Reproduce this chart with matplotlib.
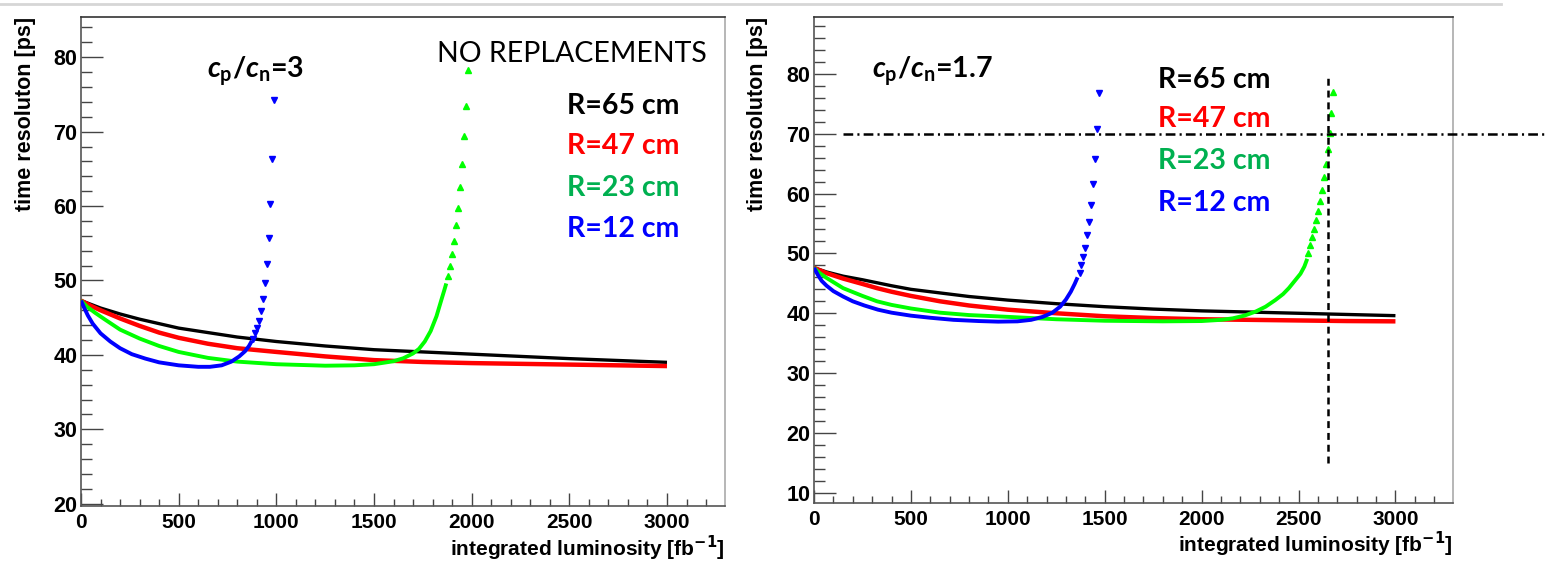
import matplotlib
matplotlib.use("Agg")
import matplotlib.pyplot as plt
from matplotlib.lines import Line2D
from matplotlib.ticker import MultipleLocator

# ---------------- data ----------------
# Left panel: cp/cn = 3, no replacements
black3_lum = [0, 50, 100, 200, 300, 400, 500, 650, 800, 1000, 1250, 1500, 1750, 2000,
              2250, 2500, 2750, 3000]
black3_res = [47.3, 46.8, 46.3, 45.5, 44.8, 44.2, 43.6, 43.0, 42.4, 41.8, 41.2, 40.7, 40.4,
              40.1, 39.8, 39.5, 39.25, 39.0]
red3_lum = [0, 50, 100, 200, 300, 400, 500, 650, 800, 1000, 1250, 1500, 1750, 2000,
            2250, 2500, 2750, 3000]
red3_res = [47.3, 46.6, 46.0, 44.9, 43.9, 43.0, 42.3, 41.5, 40.9, 40.4, 39.8, 39.3, 39.05,
            38.9, 38.8, 38.7, 38.6, 38.5]
green3_lum = [0, 30, 70, 120, 200, 300, 400, 500, 650, 800, 1000, 1250, 1400, 1500, 1600,
              1650, 1700, 1730, 1760, 1790, 1820, 1845, 1860, 1870]
green3_res = [47.3, 46.5, 45.7, 44.8, 43.4, 42.2, 41.2, 40.4, 39.6, 39.1, 38.75, 38.55, 38.6,
              38.75, 39.15, 39.55, 40.2, 40.8, 41.8, 43.2, 45.2, 47.4, 48.7, 49.6]
green3_tail_lum = [1880, 1890, 1900, 1910, 1920, 1930, 1940, 1950, 1960, 1970, 1980]
green3_tail_res = [50.6, 51.9, 53.6, 55.3, 57.4, 59.8, 62.5, 65.6, 69.4, 73.4, 78.3]
blue3_lum = [0, 15, 35, 60, 100, 150, 200, 260, 330, 400, 500, 600, 660, 720, 770, 810,
             840, 860, 875]
blue3_res = [47.3, 46.4, 45.3, 44.2, 42.9, 41.8, 40.9, 40.1, 39.5, 39.0, 38.6, 38.4, 38.4,
             38.6, 39.1, 39.8, 40.5, 41.2, 41.9]
blue3_tail_lum = [880, 890, 900, 910, 920, 930, 940, 950, 960, 970, 980, 990]
blue3_tail_res = [42.2, 42.9, 43.6, 44.6, 45.9, 47.5, 49.6, 52.2, 55.7, 60.3, 66.3, 74.3]

# Right panel: cp/cn = 1.7
black17_lum = [0, 65, 150, 250, 325, 400, 500, 650, 800, 1000, 1250, 1500, 1750, 2000,
               2250, 2500, 2750, 3000]
black17_res = [47.6, 46.9, 46.2, 45.6, 45.1, 44.6, 44.0, 43.4, 42.8, 42.2, 41.6, 41.1, 40.7,
               40.4, 40.2, 40.0, 39.8, 39.6]
red17_lum = [0, 65, 150, 250, 325, 400, 500, 650, 800, 1000, 1250, 1500, 1750, 2000,
             2250, 2500, 2750, 3000]
red17_res = [47.6, 46.7, 45.8, 44.9, 44.2, 43.6, 42.9, 42.0, 41.3, 40.6, 40.0, 39.5, 39.2,
             39.0, 38.9, 38.8, 38.7, 38.65]
green17_lum = [0, 30, 65, 150, 250, 325, 400, 500, 650, 800, 1000, 1250, 1500, 1800, 2000,
               2100, 2160, 2220, 2280, 2330, 2380, 2420, 2450, 2480, 2510, 2530, 2545]
green17_res = [47.6, 46.7, 45.9, 44.2, 42.9, 42.0, 41.4, 40.8, 40.1, 39.7, 39.4, 39.0, 38.75,
               38.65, 38.7, 38.9, 39.15, 39.6, 40.3, 41.1, 42.2, 43.2, 44.2, 45.4, 46.6,
               47.8, 49.1]
green17_tail_lum = [2550, 2560, 2570, 2580, 2590, 2600, 2610, 2620, 2630, 2640, 2650,
                    2660, 2670, 2680]
green17_tail_res = [50.0, 51.4, 52.8, 54.1, 55.5, 57.1, 58.7, 60.6, 62.7, 64.9, 67.4,
                    70.2, 73.4, 76.9]
blue17_lum = [0, 20, 40, 65, 100, 150, 200, 260, 330, 400, 500, 600, 720, 850, 950, 1050,
              1120, 1180, 1230, 1270, 1300, 1325, 1345, 1360]
blue17_res = [47.6, 46.4, 45.4, 44.6, 43.7, 42.8, 42.0, 41.3, 40.6, 40.1, 39.6, 39.25, 38.9,
              38.7, 38.6, 38.65, 38.9, 39.4, 40.1, 41.1, 42.3, 43.6, 44.9, 46.0]
blue17_tail_lum = [1370, 1380, 1390, 1400, 1410, 1420, 1430, 1440, 1450, 1460, 1470]
blue17_tail_res = [46.7, 48.0, 49.4, 50.9, 53.0, 55.3, 58.1, 61.6, 65.8, 70.8, 76.8]

# reference lines in the right panel
limit_res = 70
limit_res_lum = [150, 3780]
limit_lum = 2650
limit_lum_res = [15, 80]

radius_labels = ["R=65 cm", "R=47 cm", "R=23 cm", "R=12 cm"]
ratio_labels = [r"$\mathit{c}_{\mathrm{p}}/\mathit{c}_{\mathrm{n}}$=3",
                r"$\mathit{c}_{\mathrm{p}}/\mathit{c}_{\mathrm{n}}$=1.7"]

# ---------------- style ----------------
plt.rcParams["font.family"] = ["Liberation Sans", "DejaVu Sans"]
plt.rcParams["font.weight"] = "bold"
plt.rcParams["mathtext.fontset"] = "custom"
plt.rcParams["mathtext.rm"] = "Lato:bold"
plt.rcParams["mathtext.it"] = "Lato:bold:italic"
plt.rcParams["lines.scale_dashes"] = False

W, H = 1547, 561
fig = plt.figure(figsize=(W / 100, H / 100), dpi=100)


def fx(px):
    return px / W


def fy(py):
    return 1 - py / H


line_colors = ["#000000", "#ff0000", "#00ff00", "#0000ff"]
text_colors = ["#000000", "#ff0000", "#00b050", "#0000ff"]
band_lw = [2.4, 3.2, 2.8, 2.8]


def make_axes(l, t, r, b, ylim):
    ax = fig.add_axes([fx(l), fy(b), fx(r - l), (b - t) / H])
    ax.set_xlim(0, 3297)
    ax.set_ylim(*ylim)
    ax.xaxis.set_major_locator(MultipleLocator(500))
    ax.xaxis.set_minor_locator(MultipleLocator(100))
    ax.yaxis.set_major_locator(MultipleLocator(10))
    ax.yaxis.set_minor_locator(MultipleLocator(2))
    ax.tick_params(axis="both", which="both", direction="in", colors="#444",
                   labelcolor="black", width=1.0)
    ax.tick_params(axis="y", which="major", length=15.5, pad=2.5, labelsize=15.5)
    ax.tick_params(axis="y", which="minor", length=8)
    ax.tick_params(axis="x", which="major", length=9.5, pad=5.0, labelsize=15)
    ax.tick_params(axis="x", which="minor", length=5)
    for lab in ax.get_xticklabels() + ax.get_yticklabels():
        lab.set_fontweight("bold")
    ax.spines["left"].set_color("#555")
    ax.spines["bottom"].set_color("#555")
    ax.spines["top"].set_color("#333")
    ax.spines["right"].set_color("#aaa")
    for s in ax.spines.values():
        s.set_linewidth(1.2)
    return ax


def draw(ax, bands, tails):
    for i, (bx, by) in enumerate(bands):
        ax.plot(bx, by, color=line_colors[i], lw=band_lw[i], solid_capstyle="butt",
                solid_joinstyle="round", zorder=2 + i)
    for i, (tx, ty, mk) in tails.items():
        ax.plot(tx, ty, ls="none", marker=mk, ms=4.2, color=line_colors[i],
                mec=line_colors[i], zorder=2 + i)


# left panel
axL = make_axes(81, 17, 725, 506, (19.7, 85.4))
draw(axL,
     [(black3_lum, black3_res), (red3_lum, red3_res),
      (green3_lum, green3_res), (blue3_lum, blue3_res)],
     {2: (green3_tail_lum, green3_tail_res, "^"),
      3: (blue3_tail_lum, blue3_tail_res, "v")})

# right panel
axR = make_axes(814, 17, 1453, 503, (8.3, 89.5))
draw(axR,
     [(black17_lum, black17_res), (red17_lum, red17_res),
      (green17_lum, green17_res), (blue17_lum, blue17_res)],
     {2: (green17_tail_lum, green17_tail_res, "^"),
      3: (blue17_tail_lum, blue17_tail_res, "v")})
axR.plot(limit_res_lum, [limit_res, limit_res], color="black", lw=1.8,
         dashes=[7, 3, 1.5, 3], clip_on=False, zorder=8)
axR.plot([limit_lum, limit_lum], limit_lum_res, color="black", lw=1.8,
         dashes=[5, 3.5], zorder=8)

# axis titles
for xp in [25, 757]:
    fig.text(fx(xp), fy(17), "time resoluton [ps]", rotation=90, ha="center", va="top",
             fontsize=15.5, fontweight="bold")
for xr, yb in [(725, 556), (1453, 552)]:
    fig.text(fx(xr), fy(yb), r"integrated luminosity [fb$^{\mathbf{-1}}$]", ha="right",
             va="baseline", fontsize=15, fontweight="bold", math_fontfamily="dejavusans")

# annotations
ann_font = ["Lato", "DejaVu Sans"]
fs = 20.5
fig.text(fx(207), fy(78), ratio_labels[0], ha="left", va="baseline", fontsize=fs,
         family=ann_font, fontweight="bold")
fig.text(fx(872), fy(78), ratio_labels[1], ha="left", va="baseline", fontsize=fs,
         family=ann_font, fontweight="bold")
fig.text(fx(437), fy(62), "NO REPLACEMENTS", ha="left", va="baseline", fontsize=fs,
         family=ann_font, fontweight="normal")
for lab, col, yb in zip(radius_labels, text_colors, [114, 154, 196, 237]):
    fig.text(fx(567), fy(yb), lab, ha="left", va="baseline", fontsize=fs,
             family=ann_font, fontweight="bold", color=col)
for lab, col, yb in zip(radius_labels, text_colors, [88, 127, 169, 211]):
    fig.text(fx(1158), fy(yb), lab, ha="left", va="baseline", fontsize=fs,
             family=ann_font, fontweight="bold", color=col)

# thin gray line at the very top
fig.add_artist(Line2D([0, fx(1501)], [fy(4), fy(4)], color="#d6d6d6", lw=2,
                      transform=fig.transFigure))

fig.savefig("out.png", dpi=100)
